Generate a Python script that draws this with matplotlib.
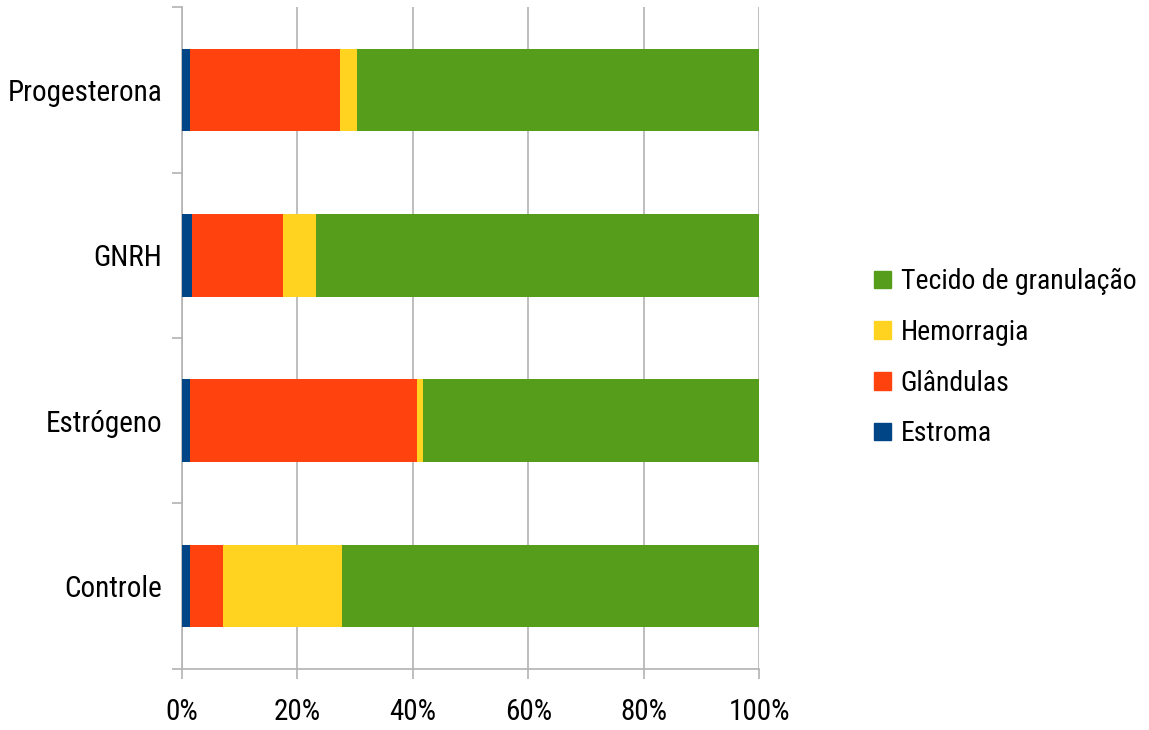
import matplotlib
matplotlib.use("Agg")
import matplotlib.pyplot as plt
from matplotlib.patches import Patch

categories = ["Controle", "Estrógeno", "GNRH", "Progesterona"]
estroma = [1.5, 1.5, 1.8, 1.4]
glandulas = [5.7, 39.3, 15.7, 26.0]
hemorragia = [20.5, 0.9, 5.7, 3.0]
tecido = [72.3, 58.3, 76.8, 69.6]
series_names = ["Estroma", "Glândulas", "Hemorragia", "Tecido de granulação"]
colors = ["#004586", "#ff420e", "#ffd320", "#579d1c"]
xticks = [0, 20, 40, 60, 80, 100]

plt.rcParams["font.family"] = ["Roboto Condensed", "Liberation Sans", "DejaVu Sans"]

fig = plt.figure(figsize=(11.49, 7.30), dpi=100)
ax = fig.add_axes([0.158, 0.084, 0.503, 0.906])

y = list(range(len(categories)))
left = [0] * len(categories)
for vals, col, name in zip([estroma, glandulas, hemorragia, tecido], colors, series_names):
    ax.barh(y, vals, left=left, height=0.5, color=col, label=name, zorder=3)
    left = [l + v for l, v in zip(left, vals)]

ax.set_xlim(0, 100)
ax.set_ylim(-0.5, len(categories) - 0.5)
ax.set_xticks(xticks)
ax.set_xticklabels([f"{t}%" for t in xticks], fontsize=21)
ax.set_yticks(y)
ax.set_yticklabels(categories, fontsize=21)
ax.tick_params(axis="y", length=0, pad=14)
ax.set_yticks([i - 0.5 for i in range(len(categories) + 1)], minor=True)
ax.tick_params(axis="y", which="minor", length=7, color="#b3b3b3", width=1.2)
ax.tick_params(axis="x", length=7, color="#b3b3b3", width=1.2, pad=14)
ax.grid(axis="x", color="#b3b3b3", linewidth=1.2, zorder=0)
for s in ["top", "right"]:
    ax.spines[s].set_visible(False)
for s in ["left", "bottom"]:
    ax.spines[s].set_color("#b3b3b3")
    ax.spines[s].set_linewidth(1.2)

handles = [Patch(color=c, label=n) for c, n in zip(colors, series_names)][::-1]
fig.legend(handles=handles, loc="center left", bbox_to_anchor=(0.761, 0.51),
           frameon=False, fontsize=20, handlelength=0.6, handleheight=0.6,
           handletextpad=0.35, labelspacing=0.85, borderpad=0, borderaxespad=0)

fig.savefig("out.png", dpi=100)
